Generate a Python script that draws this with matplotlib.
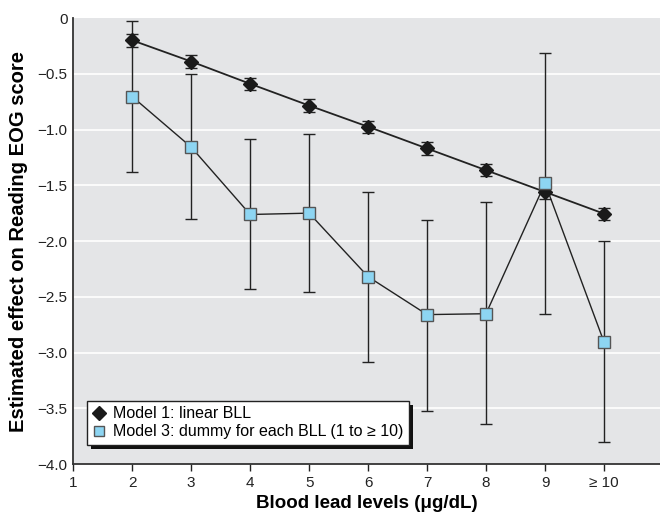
import matplotlib
matplotlib.use("Agg")
import matplotlib.pyplot as plt
import matplotlib.patheffects as pe

plt.rcParams['font.family'] = ['Liberation Sans', 'DejaVu Sans']

# blood lead levels
bll = [2, 3, 4, 5, 6, 7, 8, 9, 10]
xticklabels = ["1", "2", "3", "4", "5", "6", "7", "8", "9", "\u2265 10"]

# model 1: linear BLL
m1 = [-0.20, -0.39, -0.59, -0.785, -0.975, -1.17, -1.365, -1.56, -1.755]
m1_lo = [-0.26, -0.45, -0.645, -0.84, -1.03, -1.225, -1.42, -1.62, -1.81]
m1_hi = [-0.14, -0.335, -0.535, -0.73, -0.92, -1.115, -1.31, -1.505, -1.70]

# model 3: dummy for each BLL
m3 = [-0.705, -1.158, -1.762, -1.75, -2.32, -2.66, -2.652, -1.482, -2.905]
m3_lo = [-1.378, -1.806, -2.43, -2.458, -3.083, -3.524, -3.637, -2.652, -3.80]
m3_hi = [-0.024, -0.506, -1.089, -1.038, -1.56, -1.815, -1.652, -0.31, -1.997]

fig = plt.figure(figsize=(6.6, 5.15), dpi=100)
ax = fig.add_axes([0.111, 0.099, 0.889, 0.866])
ax.set_facecolor("#e4e5e7")

for y in [-0.5, -1.0, -1.5, -2.0, -2.5, -3.0, -3.5]:
    ax.axhline(y, color="white", lw=1.2, zorder=1)

e3 = [[v - l for v, l in zip(m3, m3_lo)], [h - v for v, h in zip(m3, m3_hi)]]
e1 = [[v - l for v, l in zip(m1, m1_lo)], [h - v for v, h in zip(m1, m1_hi)]]

ax.errorbar(bll, m3, yerr=e3, fmt="none", ecolor="#222222", elinewidth=1.0,
            capsize=4, capthick=1.0, zorder=2)
ax.plot(bll, m3, color="#222222", lw=1.0, zorder=3)
ax.errorbar(bll, m1, yerr=e1, fmt="none", ecolor="#222222", elinewidth=1.0,
            capsize=4, capthick=1.0, zorder=4)
ax.plot(bll, m1, color="#222222", lw=1.3, zorder=5)
h1, = ax.plot(bll, m1, ls="none", marker="D", ms=7.5, mfc="#1a1a1a", mec="#1a1a1a",
              zorder=6, label="Model 1: linear BLL")
h3, = ax.plot(bll, m3, ls="none", marker="s", ms=8.5, mfc="#8dd5f2", mec="#555555",
              mew=1.0, zorder=7, label="Model 3: dummy for each BLL (1 to \u2265 10)")

ax.set_xlim(1, 10.95)
ax.set_ylim(-4.0, 0)
ax.set_xticks(range(1, 11))
ax.set_xticklabels(xticklabels)
ax.set_yticks([0, -0.5, -1.0, -1.5, -2.0, -2.5, -3.0, -3.5, -4.0])
ax.set_yticklabels(["0", "\u22120.5", "\u22121.0", "\u22121.5", "\u22122.0",
                    "\u22122.5", "\u22123.0", "\u22123.5", "\u22124.0"])
ax.tick_params(axis="both", labelsize=11, colors="#222222", length=5, width=1)
ax.tick_params(axis="y", length=0, pad=4)
ax.spines["top"].set_visible(False)
ax.spines["right"].set_visible(False)
for s in ["left", "bottom"]:
    ax.spines[s].set_color("#333333")
    ax.spines[s].set_linewidth(1.3)

ax.set_xlabel("Blood lead levels (\u03bcg/dL)", fontsize=13.5, fontweight="bold", labelpad=4)
ax.set_ylabel("Estimated effect on Reading EOG score", fontsize=14.5, fontweight="bold", labelpad=7)

leg = ax.legend(handles=[h1, h3], loc="lower left", bbox_to_anchor=(0.009, 0.025),
                fontsize=11.5, frameon=True, fancybox=False, shadow=False,
                handlelength=0.8, handletextpad=0.5, borderpad=0.35, labelspacing=0.2)
leg.get_frame().set_edgecolor("#222222")
leg.get_frame().set_linewidth(1.0)
leg.get_frame().set_facecolor("white")
leg.get_frame().set_alpha(1)
leg.get_frame().set_path_effects([pe.SimplePatchShadow(offset=(3, -3), shadow_rgbFace="#111111", alpha=1),
                                  pe.Normal()])
for h in leg.legend_handles:
    h.set_markersize(7.5)

fig.savefig("out.png", dpi=100)
